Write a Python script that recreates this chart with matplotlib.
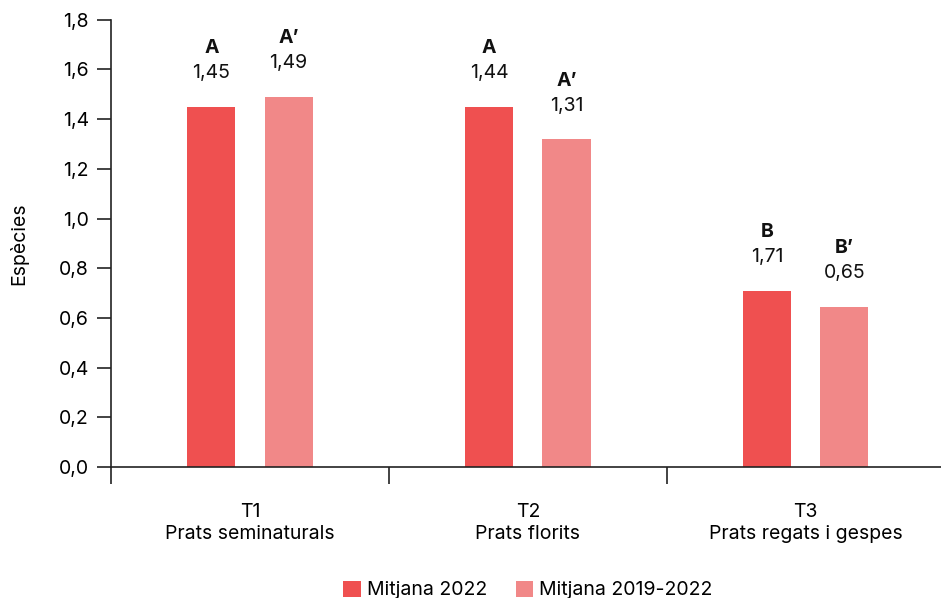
import matplotlib
matplotlib.use("Agg")
from matplotlib import pyplot
import numpy as np

# data
categories = ["T1\nPrats seminaturals", "T2\nPrats florits", "T3\nPrats regats i gespes"]
mitjana_2022 = [1.45, 1.45, 0.71]
mitjana_2019_2022 = [1.49, 1.32, 0.645]
labels_2022 = ["1,45", "1,44", "1,71"]
labels_2019_2022 = ["1,49", "1,31", "0,65"]
letters_2022 = ["A", "A", "B"]
letters_2019_2022 = ["A\u2019", "A\u2019", "B\u2019"]
y_ticks = [0.0, 0.2, 0.4, 0.6, 0.8, 1.0, 1.2, 1.4, 1.6, 1.8]
series_names = ["Mitjana 2022", "Mitjana 2019-2022"]

red = "#EF5050"
pink = "#F18888"
fs = 14

pyplot.rcParams['font.family'] = ['Inter', 'DejaVu Sans']

fig = pyplot.figure(figsize=(9.41, 5.98), dpi=100)
ax = fig.add_axes([0.118, 0.219, 0.886, 0.748])

x = np.arange(len(categories))
width = 0.173
offset = 0.139
bars1 = ax.bar(x - offset, mitjana_2022, width, color=red, label=series_names[0])
bars2 = ax.bar(x + offset, mitjana_2019_2022, width, color=pink, label=series_names[1])

for bars, vals, letters in [(bars1, labels_2022, letters_2022),
                            (bars2, labels_2019_2022, letters_2019_2022)]:
    for bar, val, letter in zip(bars, vals, letters):
        cx = bar.get_x() + bar.get_width() / 2
        top = bar.get_height()
        ax.annotate(val, (cx, top), xytext=(0, 24), textcoords="offset points",
                    ha="center", va="center", fontsize=fs, color="#111111")
        ax.annotate(letter, (cx, top), xytext=(0, 42), textcoords="offset points",
                    ha="center", va="center", fontsize=fs, fontweight="bold",
                    color="#111111")

ax.set_xlim(-0.5, 2.5)
ax.set_ylim(0, 1.8)
ax.set_yticks(y_ticks)
ax.set_yticklabels([("%.1f" % v).replace(".", ",") for v in y_ticks], fontsize=fs)
ax.tick_params(axis="y", length=10, width=1.2, pad=6, color="#222222")

ax.set_xticks([-0.5, 0.5, 1.5, 2.5])
ax.set_xticklabels([])
ax.tick_params(axis="x", which="major", length=12, width=1.2, direction="out", color="#222222")
ax.set_xticks(x, minor=True)
ax.set_xticklabels(categories, minor=True, fontsize=fs, linespacing=1.3)
ax.tick_params(axis="x", which="minor", length=0, pad=26)

for side in ["top", "right"]:
    ax.spines[side].set_visible(False)
for side in ["left", "bottom"]:
    ax.spines[side].set_linewidth(1.2)
    ax.spines[side].set_color("#222222")
ax.spines["bottom"].set_zorder(5)

ax.set_ylabel("Espècies", fontsize=fs, labelpad=22)

ax.legend(loc="upper center", bbox_to_anchor=(0.5, -0.215), ncol=2, frameon=False,
          fontsize=fs, handlelength=0.9, handleheight=0.9, handletextpad=0.3,
          columnspacing=1.5)

pyplot.savefig("out.png", dpi=100)
